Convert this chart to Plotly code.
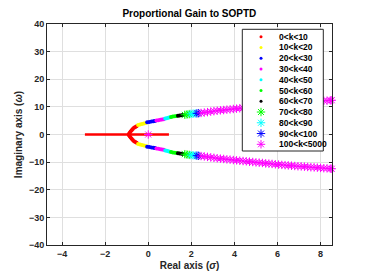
import plotly.graph_objects as go

# ---------------- data ----------------
# real-axis part of the 0<k<10 locus (end points)
red_line_s = [-2.94, 0.96]
red_line_w = [0.0, 0.0]

# upper branches (sigma, omega); the lower branches are the conjugates
red_s = [-0.9, -0.86, -0.82, -0.77, -0.72, -0.66, -0.6, -0.54]
red_w = [0.2, 0.6, 1.1, 1.55, 2.0, 2.4, 2.75, 3.0]
yel_s = [-0.47, -0.38, -0.29, -0.2, -0.11]
yel_w = [3.4, 3.6, 3.8, 4.0, 4.2]
blu_s = [-0.05, 0.05, 0.15, 0.24, 0.31]
blu_w = [4.4, 4.55, 4.7, 4.82, 4.93]
mag_s = [0.38, 0.47, 0.56, 0.64, 0.72]
mag_w = [5.05, 5.18, 5.3, 5.42, 5.55]
cya_s = [0.79, 0.86, 0.93, 1.0]
cya_w = [5.75, 5.9, 6.05, 6.2]
grn_s = [1.06, 1.14, 1.23, 1.32]
grn_w = [6.35, 6.48, 6.6, 6.72]
blk_s = [1.38, 1.46, 1.55, 1.63]
blk_w = [6.8, 6.88, 6.95, 7.02]
grn2_s = [1.7, 1.8, 1.9]
grn2_w = [7.12, 7.25, 7.38]
cya2_s = [1.98, 2.08, 2.18]
cya2_w = [7.45, 7.52, 7.6]
blu2_s = [2.26, 2.34]
blu2_w = [7.66, 7.72]
mag2_s = [2.45, 2.6, 2.75, 2.9, 3.05, 3.2, 3.35, 3.5, 3.65, 3.8, 3.95, 4.1,
          4.25, 4.4, 4.55, 4.7, 4.85, 5.0, 5.15, 5.3, 5.45, 5.6, 5.75, 5.9,
          6.05, 6.2, 6.35, 6.5, 6.65, 6.8, 6.95, 7.1, 7.25, 7.4, 7.55, 7.7,
          7.85, 8.0, 8.15, 8.3, 8.45, 8.52]
mag2_w = [7.8, 7.95, 8.1, 8.3, 8.45, 8.6, 8.75, 8.85, 9.0, 9.1, 9.25, 9.35,
          9.5, 9.6, 9.7, 9.85, 9.95, 10.1, 10.2, 10.3, 10.45, 10.55, 10.65, 10.8,
          10.9, 11.0, 11.1, 11.2, 11.3, 11.4, 11.5, 11.55, 11.65, 11.75, 11.85, 11.9,
          12.0, 12.1, 12.2, 12.25, 12.35, 12.4]
mag2_real_s = [0.0]
mag2_real_w = [0.0]

labels = ["0<k<10", "10<k<20", "20<k<30", "30<k<40", "40<k<50", "50<k<60",
          "60<k<70", "70<k<80", "80<k<90", "90<k<100", "100<k<5000"]
colors = ["#ff0000", "#ffff00", "#0000ff", "#ff00ff", "#00ffff", "#00ff00",
          "#000000", "#00ff00", "#00ffff", "#0000ff", "#ff00ff"]
is_star = [False] * 7 + [True] * 4

xticks = [-4, -2, 0, 2, 4, 6, 8]
yticks = [-40, -30, -20, -10, 0, 10, 20, 30, 40]

groups = [(red_s, red_w), (yel_s, yel_w), (blu_s, blu_w), (mag_s, mag_w),
          (cya_s, cya_w), (grn_s, grn_w), (blk_s, blk_w), (grn2_s, grn2_w),
          (cya2_s, cya2_w), (blu2_s, blu2_w), (mag2_s, mag2_w)]

FONT = "Liberation Sans, Arial, Helvetica, sans-serif"
AXC = "#262626"

fig = go.Figure()

def mk(color, star):
    if star:
        return dict(symbol="asterisk-open", size=7, color=color,
                    line=dict(color=color, width=1))
    return dict(symbol="circle", size=4, color=color, line=dict(width=0))

# red real-axis segment
fig.add_trace(go.Scatter(x=red_line_s, y=red_line_w, mode="lines",
                         line=dict(color="#ff0000", width=2.5),
                         showlegend=False, hoverinfo="skip"))

for (s, w), c, st in zip(groups, colors, is_star):
    xs = list(s) + list(s)
    ys = list(w) + [-v for v in w]
    fig.add_trace(go.Scatter(x=xs, y=ys, mode="markers", marker=mk(c, st),
                             showlegend=False, cliponaxis=False,
                             hoverinfo="skip"))

fig.add_trace(go.Scatter(x=mag2_real_s, y=mag2_real_w, mode="markers",
                         marker=mk("#ff00ff", True), showlegend=False,
                         hoverinfo="skip"))

# ---------------- custom legend on a pixel-unit overlay axis ----------------
PW, PH = 285, 221
box_x = [195.3, 276.3, 276.3, 195.3, 195.3]
box_y = [5.3, 5.3, 127.0, 127.0, 5.3]
fig.add_trace(go.Scatter(x=box_x, y=box_y, xaxis="x2", yaxis="y2",
                         mode="lines", fill="toself", fillcolor="white",
                         line=dict(color=AXC, width=1), showlegend=False,
                         hoverinfo="skip"))
row0, drow = 12.7, 10.76
for i, (lab, c, st) in enumerate(zip(labels, colors, is_star)):
    yy = row0 + i * drow
    m = mk(c, st)
    if not st:
        m = dict(m, size=3)
    fig.add_trace(go.Scatter(x=[214], y=[yy], xaxis="x2", yaxis="y2",
                             mode="markers", marker=m, showlegend=False,
                             hoverinfo="skip"))
    fig.add_annotation(x=229.7, y=yy, xref="x2", yref="y2", text=lab,
                       showarrow=False, xanchor="left", yanchor="middle",
                       font=dict(family=FONT, size=8.5, color="black", weight="bold"))

fig.update_layout(
    width=367, height=276,
    margin=dict(l=47, r=35, t=24, b=31, autoexpand=False),
    paper_bgcolor="white", plot_bgcolor="white",
    showlegend=False,
    title=dict(text="<b>Proportional Gain to SOPTD</b>", x=0.516, xanchor="center",
               y=0.95, yanchor="middle", automargin=False,
               font=dict(family=FONT, size=10, color="black")),
    xaxis=dict(range=[-4.7, 8.53], tickvals=xticks, ticks="inside", ticklen=3,
               tickcolor=AXC, showline=True, linecolor=AXC, linewidth=1,
               mirror="ticks", showgrid=True, gridcolor="#dfdfdf", gridwidth=1,
               zeroline=False, automargin=False,
               tickfont=dict(family=FONT, size=9, color=AXC, weight="bold"),
               title=dict(text="<b>Real axis (<i>σ</i>)</b>", standoff=4,
                          font=dict(family=FONT, size=10, color=AXC))),
    yaxis=dict(range=[-40, 40], tickvals=yticks, ticks="inside", ticklen=3,
               tickcolor=AXC, showline=True, linecolor=AXC, linewidth=1,
               mirror="ticks", showgrid=True, gridcolor="#dfdfdf", gridwidth=1,
               zeroline=False, automargin=False,
               tickfont=dict(family=FONT, size=9, color=AXC, weight="bold"),
               title=dict(text="<b>Imaginary axis (<i>ω</i>)</b>", standoff=4,
                          font=dict(family=FONT, size=10, color=AXC))),
    xaxis2=dict(overlaying="x", anchor="y2", range=[0, PW], visible=False,
                fixedrange=True),
    yaxis2=dict(overlaying="y", anchor="x2", range=[PH, 0], visible=False,
                fixedrange=True),
)

fig.write_html("out.html", config={"displayModeBar": False},
               post_script="document.body.style.margin='0px';"
                           "document.body.style.overflow='hidden';")
